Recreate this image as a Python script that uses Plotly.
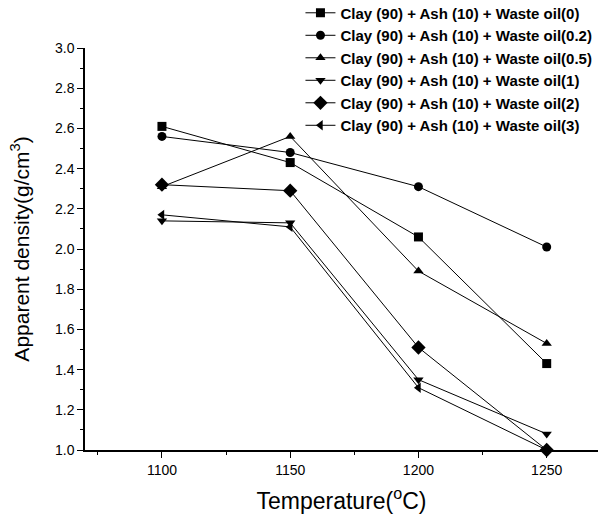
import plotly.graph_objects as go

temps = [1100, 1150, 1200, 1250]
names = [
    "Clay (90) + Ash (10) + Waste oil(0)",
    "Clay (90) + Ash (10) + Waste oil(0.2)",
    "Clay (90) + Ash (10) + Waste oil(0.5)",
    "Clay (90) + Ash (10) + Waste oil(1)",
    "Clay (90) + Ash (10) + Waste oil(2)",
    "Clay (90) + Ash (10) + Waste oil(3)",
]
oil_0 = [2.61, 2.43, 2.06, 1.43]
oil_02 = [2.56, 2.48, 2.31, 2.01]
oil_05 = [2.31, 2.56, 1.89, 1.53]
oil_1 = [2.14, 2.13, 1.35, 1.08]
oil_2 = [2.32, 2.29, 1.51, 1.00]
oil_3 = [2.17, 2.11, 1.31, 1.00]
series = [oil_0, oil_02, oil_05, oil_1, oil_2, oil_3]
symbols = ["square", "circle", "triangle-up", "triangle-down", "diamond", "triangle-left"]

fig = go.Figure()
for name, vals, sym in zip(names, series, symbols):
    fig.add_trace(go.Scatter(
        x=temps, y=vals, name=name, mode="lines+markers",
        line=dict(color="black", width=1),
        marker=dict(symbol=sym, size=9 if sym != "diamond" else 11, color="black"),
        cliponaxis=False,
    ))

fnt = "Liberation Sans, Arial, sans-serif"
fig.update_layout(
    width=607, height=521,
    margin=dict(l=85, r=9, t=48, b=71, autoexpand=False),
    paper_bgcolor="white", plot_bgcolor="white",
    font=dict(family=fnt, color="black", size=13),
    showlegend=True,
    legend=dict(
        x=0.42, y=1.128, xanchor="left", yanchor="top",
        font=dict(family=fnt, size=15, color="black", weight="bold"),
        bgcolor="rgba(0,0,0,0)", tracegroupgap=0,
        itemwidth=30,
    ),
    xaxis=dict(
        range=[1070, 1270], tickvals=[1100, 1150, 1200, 1250],
        showline=True, linecolor="black", linewidth=1.5,
        ticks="outside", ticklen=6, tickwidth=1.2, tickcolor="black",
        minor=dict(tickvals=[1075, 1125, 1175, 1225], ticks="outside", ticklen=3, tickcolor="black"),
        showgrid=False, zeroline=False, mirror=False,
        tickfont=dict(size=14),
        title=dict(text="Temperature(<sup>o</sup>C)", font=dict(size=23), standoff=16),
    ),
    yaxis=dict(
        range=[1.0, 3.0], dtick=0.2, tickformat=".1f",
        showline=True, linecolor="black", linewidth=1.5,
        ticks="outside", ticklen=6, tickwidth=1.2, tickcolor="black",
        minor=dict(dtick=0.1, ticks="outside", ticklen=3, tickcolor="black"),
        showgrid=False, zeroline=False, mirror=False,
        tickfont=dict(size=14),
        title=dict(text="Apparent density(g/cm<sup>3</sup>)", font=dict(size=21), standoff=20),
    ),
)

fig.write_html("out.html")
